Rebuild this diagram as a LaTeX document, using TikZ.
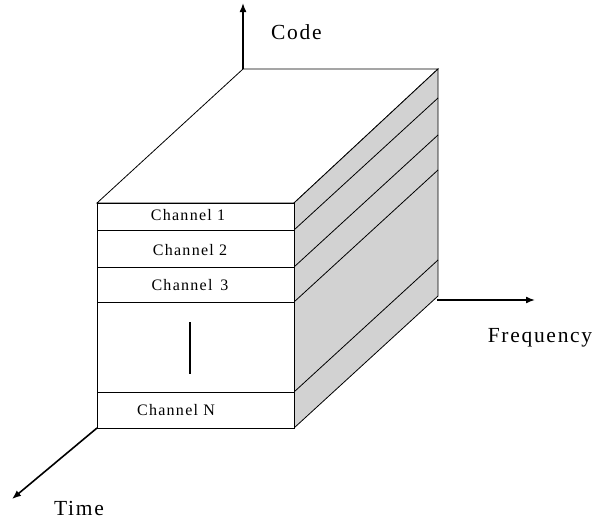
\documentclass[tikz,border=0pt]{standalone}
\usepackage{fontspec}
\setmainfont{Liberation Serif}
\newfontfamily\lblfont[LetterSpace=8]{Liberation Serif}
\usetikzlibrary{arrows.meta}
\begin{document}
\begin{tikzpicture}[x=1pt,y=-1pt,
  edge/.style={draw=black,line width=0.8pt},
  axis/.style={draw=black,line width=1.6pt,-{Latex[length=9pt,width=7pt]}},
  chan/.style={font=\lblfont\fontsize{16}{16}\selectfont,inner sep=0pt},
  axlabel/.style={font=\lblfont\fontsize{21.5}{21.5}\selectfont,inner sep=0pt}]
\useasboundingbox (0,0) rectangle (595,522);
% front face corners
\coordinate (ftl) at (97,203);
\coordinate (ftr) at (294,203);
\coordinate (fbr) at (294,428);
\coordinate (fbl) at (97,428);
% back corners (front shifted by the depth)
\coordinate (btl) at (243,69);
\coordinate (btr) at (438,69);
\coordinate (bbr) at (438,296);
% axis ends
\coordinate (codeend) at (243,3);
\coordinate (freqstart) at (437,300);
\coordinate (freqend) at (535,300);
\coordinate (timeend) at (12,499);
% axes
\draw[axis] (btl) -- (codeend);
\draw[axis] (freqstart) -- (freqend);
\draw[axis] (fbl) -- (timeend);
% top face
\filldraw[edge,fill=white] (ftl) -- (btl) -- (btr) -- (ftr) -- cycle;
% side face
\filldraw[edge,fill=gray!35] (ftr) -- (btr) -- (bbr) -- (fbr) -- cycle;
% channel boundaries on the side face
\foreach \y/\n in {230/a,267/b,302/c,392/d}{
  \coordinate (s\n) at (294,\y);
  \coordinate (t\n) at (438,\y-132);
  \draw[edge] (s\n) -- (t\n);
}
% front face
\filldraw[edge,fill=white] (ftl) rectangle (fbr);
\foreach \n in {a,b,c,d}{
  \draw[edge] (97,0 |- s\n) -- (s\n);
}
% channel labels
\node[chan] (c1) at (188,215) {Channel 1};
\node[chan] (c2) at (190,250) {Channel 2};
\node[chan] (c3) at (190,285) {Channel\, 3};
\node[chan] (cn) at (176,410) {Channel N};
% continuation bar
\coordinate (bartop) at (190,322);
\coordinate (barbot) at (190,374);
\draw[line width=2.2pt] (bartop) -- (barbot);
% axis labels
\node[axlabel,anchor=west] (code) at (271,32) {Code};
\node[axlabel] (freq) at (540,338) {Frequency};
\node[axlabel] (time) at (79,508) {Time};
\end{tikzpicture}
\end{document}
